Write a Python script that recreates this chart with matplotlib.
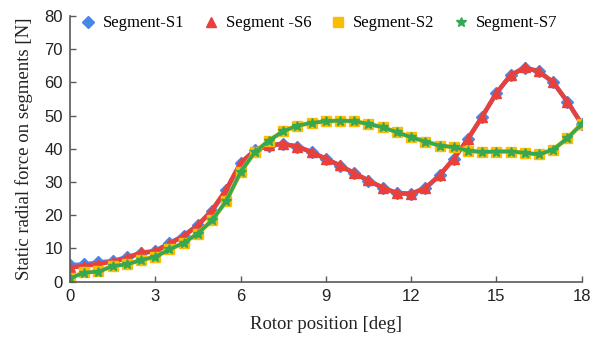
import numpy as np
import matplotlib
matplotlib.use("Agg")
import matplotlib.pyplot as plt

#--------------------- Data ---------------------
position = np.arange(0, 18.01, 0.5)

seg_s1 = [5.0, 5.2, 5.8, 6.2, 7.4, 8.5, 9.3, 11.6, 13.9, 17.1, 21.3, 27.5, 35.6,
          39.6, 41.0, 41.4, 40.7, 39.0, 37.0, 34.9, 32.6, 30.4, 28.3, 26.6, 26.4,
          28.1, 32.0, 37.0, 43.0, 49.7, 56.8, 62.1, 64.4, 63.3, 60.0, 54.2, 47.5]
seg_s6 = [4.3, 4.7, 5.4, 6.0, 7.1, 8.8, 9.1, 11.4, 13.7, 17.0, 21.6, 27.8, 35.8,
          39.5, 41.1, 41.5, 40.7, 39.0, 37.0, 35.0, 32.7, 30.5, 28.3, 26.7, 26.5,
          28.2, 32.0, 37.0, 43.0, 49.7, 56.8, 62.2, 64.5, 63.3, 60.0, 54.2, 47.5]
seg_s2 = [1.2, 2.8, 3.1, 4.7, 5.3, 6.5, 7.5, 9.7, 11.7, 14.5, 18.5, 24.3, 33.0,
          39.0, 42.5, 45.3, 47.0, 47.8, 48.3, 48.5, 48.3, 47.5, 46.5, 45.0, 43.5,
          42.2, 41.0, 40.5, 39.5, 39.0, 39.2, 39.2, 38.8, 38.3, 39.8, 43.2, 47.5]
seg_s7 = [1.0, 2.7, 3.0, 4.7, 5.2, 6.5, 7.5, 9.7, 11.7, 14.5, 18.5, 24.3, 33.0,
          39.0, 42.5, 45.3, 47.0, 47.8, 48.3, 48.5, 48.3, 47.5, 46.5, 45.0, 43.5,
          42.2, 41.0, 40.5, 39.5, 39.0, 39.2, 39.2, 38.8, 38.3, 39.8, 43.2, 47.5]

#--------------------- Plot ---------------------
fig = plt.figure(figsize=(6.12, 3.41), dpi=100)
ax = fig.add_axes([0.1144, 0.174, 0.836, 0.779])

ax.plot(position, seg_s1, color="#4a86e8", lw=3.2, marker="D", ms=6.5,
        label="Segment-S1")
ax.plot(position, seg_s6, color="#e8413c", lw=3.2, marker="^", ms=7.5,
        label="Segment -S6")
ax.plot(position, seg_s2, color="#fbbc04", lw=3.2, marker="s", ms=7,
        label="Segment-S2")
ax.plot(position, seg_s7, color="#34a853", lw=2.6, marker="*", ms=7.5,
        label="Segment-S7")

ax.set_xlim(0, 18)
ax.set_ylim(0, 80)
ax.set_xticks(np.arange(0, 19, 3))
ax.set_yticks(np.arange(0, 81, 10))

for s in ["top", "right"]:
    ax.spines[s].set_visible(False)
for s in ["left", "bottom"]:
    ax.spines[s].set_color("#595959")
    ax.spines[s].set_linewidth(1.2)
ax.tick_params(direction="in", length=4, color="#595959", width=1.0,
               labelsize=12, labelcolor="#222222", pad=5)
for lab in ax.get_xticklabels() + ax.get_yticklabels():
    lab.set_family("Liberation Sans")

serif = {"family": "Liberation Serif", "size": 13.5, "color": "#222222"}
ax.set_xlabel("Rotor position [deg]", fontdict=serif, labelpad=9)
ax.set_ylabel("Static radial force on segments [N]", fontdict=serif, labelpad=8)

leg = ax.legend(loc="upper left", bbox_to_anchor=(0.005, 1.04), ncol=4,
                frameon=False, prop={"family": "Liberation Serif", "size": 12},
                handlelength=0.6, handletextpad=0.6, columnspacing=1.3,
                borderaxespad=0.2)
for h in leg.legend_handles:
    h.set_linestyle("None")

fig.savefig("out.png", dpi=100)
